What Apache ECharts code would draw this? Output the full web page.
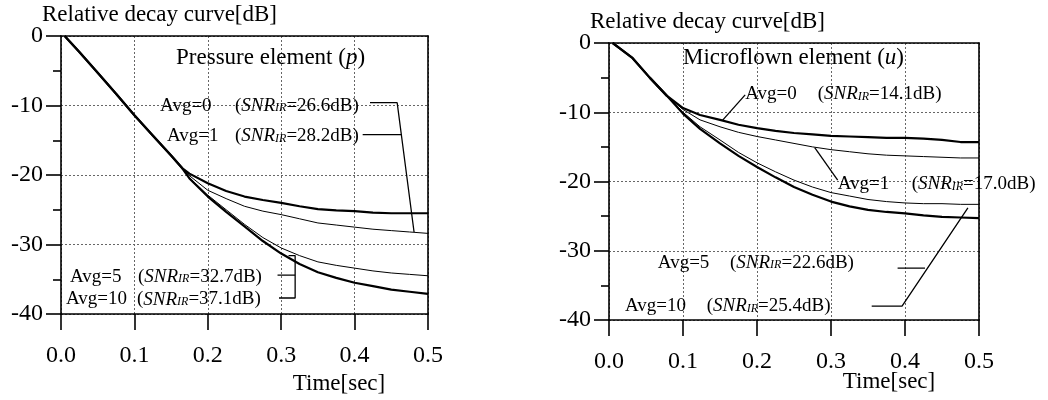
<!DOCTYPE html>
<html>
<head>
<meta charset="utf-8">
<script src="https://cdn.jsdelivr.net/npm/echarts@6/dist/echarts.min.js"></script>
<style>html,body{margin:0;padding:0;background:#fff}#c{width:1048px;height:400px}</style>
</head>
<body>
<div id="c"></div>
<script>
// ---- Data (time in s, level in dB) ----
const xTicks = [0.0, 0.1, 0.2, 0.3, 0.4, 0.5];
const yTicks = [0, -10, -20, -30, -40];

// Pressure element (p)
const pTime  = [0.005,0.025,0.05,0.075,0.1,0.125,0.15,0.165,0.175,0.2,0.225,0.25,0.275,0.3,0.325,0.35,0.375,0.4,0.425,0.45,0.475,0.5];
const pAvg0  = [0,-2.3,-5.3,-8.3,-11.4,-14.3,-17.2,-19.0,-19.8,-21.2,-22.3,-23.1,-23.6,-24.0,-24.5,-24.9,-25.1,-25.2,-25.4,-25.5,-25.5,-25.5];
const pAvg1  = [0,-2.3,-5.3,-8.3,-11.4,-14.3,-17.2,-19.0,-20.1,-22.2,-23.4,-24.5,-25.2,-25.7,-26.3,-26.9,-27.2,-27.5,-27.8,-28.0,-28.2,-28.4];
const pAvg5  = [0,-2.3,-5.3,-8.3,-11.4,-14.3,-17.2,-19.0,-20.4,-22.9,-25.0,-27.1,-29.0,-30.5,-31.6,-32.5,-33.0,-33.4,-33.8,-34.1,-34.3,-34.5];
const pAvg10 = [0,-2.3,-5.3,-8.3,-11.4,-14.3,-17.2,-19.0,-20.5,-23.1,-25.3,-27.4,-29.5,-31.3,-32.8,-34.0,-34.8,-35.5,-36.0,-36.5,-36.8,-37.1];
const pSNR   = ['26.6', '28.2', '32.7', '37.1'];

// Microflown element (u)
const uTime  = [0.005,0.015,0.032,0.055,0.078,0.1,0.123,0.15,0.175,0.2,0.225,0.25,0.275,0.3,0.325,0.35,0.375,0.4,0.425,0.45,0.475,0.5];
const uAvg0  = [0,-0.8,-2.2,-5.0,-7.6,-9.4,-10.4,-11.1,-11.8,-12.3,-12.7,-13.0,-13.2,-13.4,-13.5,-13.6,-13.7,-13.7,-13.8,-14.0,-14.3,-14.3];
const uAvg1  = [0,-0.8,-2.2,-5.0,-7.6,-9.6,-11.1,-12.1,-12.9,-13.5,-14.0,-14.5,-15.0,-15.4,-15.7,-16.0,-16.2,-16.3,-16.4,-16.5,-16.6,-16.6];
const uAvg5  = [0,-0.8,-2.2,-5.0,-7.6,-10.0,-12.1,-14.0,-15.8,-17.3,-18.6,-19.8,-20.8,-21.6,-22.1,-22.6,-22.9,-23.1,-23.2,-23.2,-23.3,-23.3];
const uAvg10 = [0,-0.8,-2.2,-5.0,-7.6,-10.2,-12.4,-14.5,-16.3,-17.9,-19.4,-20.8,-21.9,-22.9,-23.6,-24.1,-24.4,-24.6,-24.9,-25.1,-25.2,-25.3];
const uSNR   = ['14.1', '17.0', '22.6', '25.4'];

// Leader lines (data coordinates)
const pLead0  = [[0.421,-9.6],[0.458,-9.6],[0.481,-28.2]];
const pLead1  = [[0.411,-14.2],[0.464,-14.2]];
const pLead5  = [[0.295,-34.4],[0.319,-34.4]];
const pLead10 = [[0.310,-31.6],[0.319,-31.6],[0.319,-37.7],[0.297,-37.7]];
const uLead0  = [[0.184,-7.5],[0.153,-11.2]];
const uLead1  = [[0.309,-19.8],[0.278,-15.1]];
const uLead5  = [[0.390,-32.5],[0.427,-32.5]];
const uLead10 = [[0.355,-38.0],[0.396,-38.0],[0.485,-23.8]];

// Label anchors (data coordinates): [avgX, snrX, y]
const pLabelPos = [[0.135,0.237,-9.8],[0.1444,0.237,-14.2],[0.0123,0.1049,-34.4],[0.0068,0.1035,-37.7]];
const uLabelPos = [[0.184,0.282,-7.2],[0.309,0.409,-20.2],[0.066,0.1635,-31.5],[0.0216,0.132,-37.8]];
const avgNames = ['Avg=0','Avg=1','Avg=5','Avg=10'];

// ---- Build ----
const FONT = '"Liberation Serif","Times New Roman",serif';
const INK = '#000';
const zip = (t, v) => t.map((x, i) => [x, v[i]]);

function xAx(g, pos) {
  const main = pos === 'bottom';
  return {
    gridIndex: g, type: 'value', position: pos, min: 0, max: 0.5, interval: 0.1,
    axisLine: { show: true, onZero: false, lineStyle: { color: INK, width: 1.6 } },
    axisTick: { show: main, length: 16, lineStyle: { color: INK, width: 1.6 } },
    axisLabel: { show: main, margin: 30, fontFamily: FONT, fontSize: 24, color: INK,
      formatter: v => v.toFixed(1) },
    splitLine: { show: main, lineStyle: { color: '#666', width: 1, type: [2, 2] } }
  };
}
function yAx(g, pos) {
  const main = pos === 'left';
  return {
    gridIndex: g, type: 'value', position: pos, min: -40, max: 0, interval: 10,
    axisLine: { show: true, onZero: false, lineStyle: { color: INK, width: 1.6 } },
    axisTick: { show: main, length: 15, lineStyle: { color: INK, width: 1.6 } },
    minorTick: { show: main, splitNumber: 2, length: 8, lineStyle: { color: INK, width: 1.6 } },
    axisLabel: { show: main, margin: 18, fontFamily: FONT, fontSize: 24, color: INK },
    splitLine: { show: main, lineStyle: { color: '#666', width: 1, type: [2, 2] } }
  };
}
function curve(ax, t, v, w) {
  return { type: 'line', xAxisIndex: ax, yAxisIndex: ax, data: zip(t, v), showSymbol: false,
    symbol: 'none', lineStyle: { color: INK, width: w }, silent: true, animation: false, z: 3 };
}
function lead(ax, pts) {
  return { type: 'line', xAxisIndex: ax, yAxisIndex: ax, data: pts, symbol: 'none',
    lineStyle: { color: INK, width: 1.3 }, silent: true, animation: false, z: 4 };
}
const rich = {
  n: { fontFamily: FONT, fontSize: 19, color: INK, lineHeight: 22, verticalAlign: 'bottom' },
  i: { fontFamily: FONT, fontSize: 19, fontStyle: 'italic', color: INK, lineHeight: 22, verticalAlign: 'bottom' },
  s: { fontFamily: FONT, fontSize: 12, fontStyle: 'italic', color: INK, lineHeight: 22, verticalAlign: 'bottom', padding: [0, 0, 1, 0] },
  t: { fontFamily: FONT, fontSize: 23, color: INK, lineHeight: 26 },
  ti: { fontFamily: FONT, fontSize: 23, fontStyle: 'italic', color: INK, lineHeight: 26 }
};
function labels(ax, pos, snr, title, titlePos) {
  const data = [];
  pos.forEach((p, k) => {
    data.push({ value: [p[0], p[2]], label: { formatter: '{n|' + avgNames[k] + '}' } });
    data.push({ value: [p[1], p[2]], label: { formatter: '{n|(}{i|SNR}{s|IR}{n|=' + snr[k] + 'dB)}' } });
  });
  data.push({ value: titlePos, label: { formatter: title } });
  return { type: 'scatter', xAxisIndex: ax, yAxisIndex: ax, symbolSize: 0, data: data, silent: true,
    animation: false, z: 5, itemStyle: { opacity: 1 },
    label: { show: true, position: 'right', distance: 0, color: INK, opacity: 1, rich: rich } };
}

const pTitlePos = [0.1567, -3.2];
const uTitlePos = [0.100, -2.2];

const option = {
  backgroundColor: '#fff',
  animation: false,
  grid: [
    { left: 61, right: 1048 - 428, top: 36, bottom: 400 - 314 },
    { left: 609, right: 1048 - 979, top: 43, bottom: 400 - 320 }
  ],
  title: [
    { text: 'Relative decay curve[dB]', left: 42, top: 3, padding: 0,
      textStyle: { fontFamily: FONT, fontSize: 23, fontWeight: 'normal', color: INK } },
    { text: 'Relative decay curve[dB]', left: 590, top: 10, padding: 0,
      textStyle: { fontFamily: FONT, fontSize: 23, fontWeight: 'normal', color: INK } },
    { text: 'Time[sec]', left: 339, top: 372, textAlign: 'center', padding: 0,
      textStyle: { fontFamily: FONT, fontSize: 23, fontWeight: 'normal', color: INK } },
    { text: 'Time[sec]', left: 889, top: 370, textAlign: 'center', padding: 0,
      textStyle: { fontFamily: FONT, fontSize: 23, fontWeight: 'normal', color: INK } }
  ],
  xAxis: [xAx(0, 'bottom'), xAx(0, 'top'), xAx(1, 'bottom'), xAx(1, 'top')],
  yAxis: [yAx(0, 'left'), yAx(0, 'right'), yAx(1, 'left'), yAx(1, 'right')],
  series: [
    curve(0, pTime, pAvg0, 2.2), curve(0, pTime, pAvg1, 1), curve(0, pTime, pAvg5, 1), curve(0, pTime, pAvg10, 2.2),
    lead(0, pLead0), lead(0, pLead1), lead(0, pLead5), lead(0, pLead10),
    labels(0, pLabelPos, pSNR, '{t|Pressure element (}{ti|p}{t|)}', pTitlePos),
    curve(2, uTime, uAvg0, 2.2), curve(2, uTime, uAvg1, 1), curve(2, uTime, uAvg5, 1), curve(2, uTime, uAvg10, 2.2),
    lead(2, uLead0), lead(2, uLead1), lead(2, uLead5), lead(2, uLead10),
    labels(2, uLabelPos, uSNR, '{t|Microflown element (}{ti|u}{t|)}', uTitlePos)
  ]
};
const chart = echarts.init(document.getElementById('c'), null, { renderer: 'canvas' });
chart.setOption(option);
</script>
</body>
</html>
